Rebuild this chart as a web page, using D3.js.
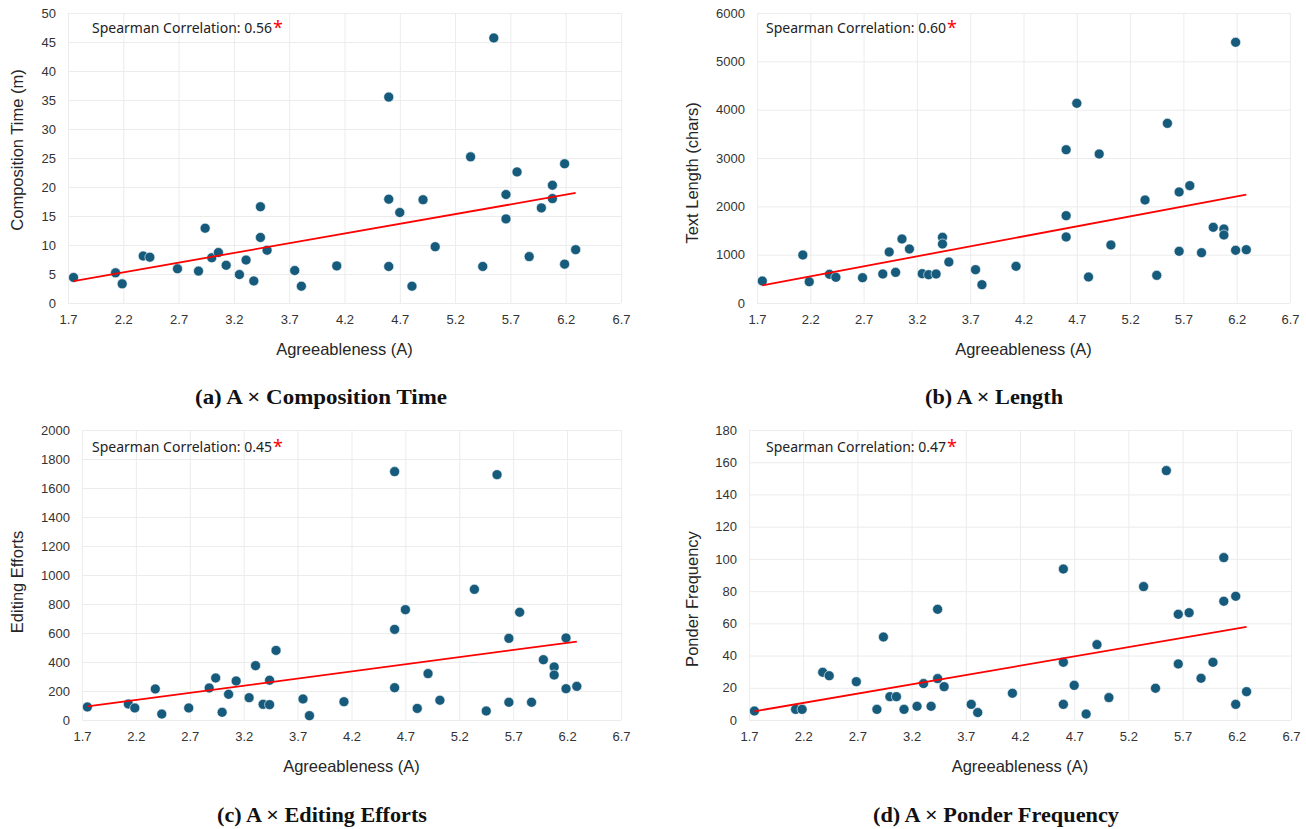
<!DOCTYPE html>
<html>
<head>
<meta charset="utf-8">
<script src="https://cdn.jsdelivr.net/npm/d3@7"></script>
<style>
  body { margin: 0; background: #fff; }
  svg { display: block; }
  .tick text { font-family: "Liberation Sans", Arial, sans-serif; font-size: 13px; fill: #333; }
  .grid line { stroke: #ececec; stroke-width: 1; }
  .axis-title { font-family: "Liberation Sans", Arial, sans-serif; font-size: 16.5px; fill: #262626; }
  .corr { font-family: "Noto Sans", sans-serif; font-size: 14px; fill: #222; }
  .caption { font-family: "Liberation Serif", "DejaVu Serif", serif; font-size: 21px; font-weight: bold; fill: #111; }
</style>
</head>
<body>
<div id="chart"></div>
<script>
var svgWidth = 1306;
var svgHeight = 829;

// Agreeableness score of each participant (shared x for all four plots)
var agreeableness = [1.75, 2.13, 2.19, 2.38, 2.44, 2.69, 2.88, 2.94, 3.0, 3.06,
  3.13, 3.25, 3.31, 3.38, 3.44, 3.44, 3.5, 3.75, 3.81, 4.13,
  4.6, 4.6, 4.6, 4.7, 4.81, 4.91, 5.02, 5.34, 5.45, 5.55,
  5.66, 5.66, 5.76, 5.87, 5.98, 6.08, 6.08, 6.19, 6.19, 6.29];

// y values, same order as agreeableness
var compositionTime = [4.4, 5.2, 3.3, 8.1, 7.9, 5.9, 5.5, 12.9, 7.8, 8.7,
  6.5, 4.9, 7.4, 3.8, 16.6, 11.3, 9.1, 5.6, 2.9, 6.4,
  35.5, 17.9, 6.3, 15.6, 2.9, 17.8, 9.7, 25.2, 6.3, 45.7,
  18.7, 14.5, 22.6, 8.0, 16.4, 20.3, 18.0, 24.0, 6.7, 9.2];

var textLength = [455, 993, 441, 593, 531, 524, 600, 1055, 634, 1324,
  1117, 607, 586, 600, 1359, 1221, 848, 690, 379, 759,
  3172, 1807, 1366, 4131, 538, 3083, 1200, 2131, 572, 3717,
  2297, 1069, 2428, 1041, 1566, 1531, 1407, 5393, 1090, 1103];

var editingEfforts = [90, 110, 83, 214, 41, 83, 221, 290, 53, 177,
  269, 154, 375, 108, 274, 106, 480, 145, 30, 126,
  1713, 625, 223, 761, 80, 320, 136, 901, 62, 1692,
  563, 122, 743, 122, 416, 366, 310, 566, 216, 232];

var ponderFrequency = [5.6, 6.6, 6.6, 29.6, 27.5, 23.8, 6.6, 51.5, 14.5, 14.5,
  6.6, 8.5, 22.6, 8.5, 68.7, 25.7, 20.7, 9.7, 4.6, 16.6,
  93.7, 35.8, 9.7, 21.5, 3.7, 46.8, 13.9, 82.8, 19.7, 154.8,
  65.6, 34.8, 66.6, 25.9, 35.8, 100.8, 73.7, 76.8, 9.7, 17.6];

var xTicks = [1.7, 2.2, 2.7, 3.2, 3.7, 4.2, 4.7, 5.2, 5.7, 6.2, 6.7];
var timeTicks = [0, 5, 10, 15, 20, 25, 30, 35, 40, 45, 50];
var lengthTicks = [0, 1000, 2000, 3000, 4000, 5000, 6000];
var effortTicks = [0, 200, 400, 600, 800, 1000, 1200, 1400, 1600, 1800, 2000];
var ponderTicks = [0, 20, 40, 60, 80, 100, 120, 140, 160, 180];

var yTitles = ["Composition Time (m)", "Text Length (chars)", "Editing Efforts", "Ponder Frequency"];
var correlations = ["0.56", "0.60", "0.45", "0.47"];
var captions = ["(a) A \u00d7 Composition Time", "(b) A \u00d7 Length",
  "(c) A \u00d7 Editing Efforts", "(d) A \u00d7 Ponder Frequency"];

// panel layout (pixel boxes of each plot area)
var panels = [
  { values: compositionTime, ticks: timeTicks, left: 68, right: 621, top: 13, bottom: 303,
    yTitleX: 17, yTitleY: 150, capX: 321, capY: 404, capW: 252, corrX: 92, corrY: 33 },
  { values: textLength, ticks: lengthTicks, left: 757, right: 1290, top: 13, bottom: 303,
    yTitleX: 692, yTitleY: 173, capX: 994, capY: 404, capW: 138, corrX: 766, corrY: 33 },
  { values: editingEfforts, ticks: effortTicks, left: 82, right: 621, top: 430, bottom: 720,
    yTitleX: 17, yTitleY: 582, capX: 322, capY: 822, capW: 210, corrX: 92, corrY: 452 },
  { values: ponderFrequency, ticks: ponderTicks, left: 749, right: 1291, top: 430, bottom: 720,
    yTitleX: 692, yTitleY: 599, capX: 996, capY: 822, capW: 246, corrX: 766, corrY: 452 }
];

var svg = d3.select("#chart")
  .append("svg")
  .attr("width", svgWidth)
  .attr("height", svgHeight);

// least squares fit for the trend line
function linearFit(xs, ys) {
  var mx = d3.mean(xs), my = d3.mean(ys);
  var num = 0, den = 0;
  xs.forEach(function(x, i) {
    num += (x - mx) * (ys[i] - my);
    den += (x - mx) * (x - mx);
  });
  var slope = num / den;
  return { slope: slope, intercept: my - slope * mx };
}

panels.forEach(function(p, i) {
  var g = svg.append("g");

  var xScale = d3.scaleLinear()
    .domain([xTicks[0], xTicks[xTicks.length - 1]])
    .range([p.left, p.right]);

  var yScale = d3.scaleLinear()
    .domain([0, p.ticks[p.ticks.length - 1]])
    .range([p.bottom, p.top]);

  // vertical grid
  g.append("g")
    .attr("class", "grid")
    .attr("transform", `translate(0, ${p.top})`)
    .call(d3.axisBottom(xScale).tickValues(xTicks).tickSize(p.bottom - p.top).tickFormat(""))
    .call(function(a) { a.select(".domain").remove(); });

  // horizontal grid
  g.append("g")
    .attr("class", "grid")
    .attr("transform", `translate(${p.left}, 0)`)
    .call(d3.axisRight(yScale).tickValues(p.ticks).tickSize(p.right - p.left).tickFormat(""))
    .call(function(a) { a.select(".domain").remove(); });

  // x axis labels
  g.append("g")
    .attr("transform", `translate(0, ${p.bottom})`)
    .call(d3.axisBottom(xScale).tickValues(xTicks).tickSize(0).tickPadding(12).tickFormat(d3.format(".1f")))
    .call(function(a) { a.select(".domain").remove(); });

  // y axis labels
  g.append("g")
    .attr("transform", `translate(${p.left}, 0)`)
    .call(d3.axisLeft(yScale).tickValues(p.ticks).tickSize(0).tickPadding(12).tickFormat(d3.format("d")))
    .call(function(a) { a.select(".domain").remove(); });

  // points
  g.selectAll("circle")
    .data(agreeableness)
    .enter()
    .append("circle")
    .attr("cx", d => xScale(d))
    .attr("cy", (d, j) => yScale(p.values[j]))
    .attr("r", 5)
    .attr("fill", "#175b7c")
    .attr("stroke", "#fff")
    .attr("stroke-width", 0.6);

  // linear trend line
  var fit = linearFit(agreeableness, p.values);
  var x0 = d3.min(agreeableness), x1 = d3.max(agreeableness);
  g.append("line")
    .attr("x1", xScale(x0))
    .attr("y1", yScale(fit.intercept + fit.slope * x0))
    .attr("x2", xScale(x1))
    .attr("y2", yScale(fit.intercept + fit.slope * x1))
    .attr("stroke", "#ff0000")
    .attr("stroke-width", 1.8);

  // correlation note
  var note = g.append("text")
    .attr("class", "corr")
    .attr("x", p.corrX)
    .attr("y", p.corrY);
  note.append("tspan").text("Spearman Correlation: " + correlations[i]);
  note.append("tspan")
    .attr("fill", "#ff0000")
    .attr("font-size", "18px")
    .attr("dx", 1)
    .attr("dy", 1)
    .text("*");

  // axis titles
  g.append("text")
    .attr("class", "axis-title")
    .attr("x", (p.left + p.right) / 2)
    .attr("y", p.bottom + 52)
    .attr("text-anchor", "middle")
    .text("Agreeableness (A)");

  g.append("text")
    .attr("class", "axis-title")
    .attr("transform", `translate(${p.yTitleX}, ${p.yTitleY}) rotate(-90)`)
    .attr("text-anchor", "middle")
    .attr("dy", "0.35em")
    .text(yTitles[i]);

  // caption
  g.append("text")
    .attr("class", "caption")
    .attr("x", p.capX)
    .attr("y", p.capY)
    .attr("text-anchor", "middle")
    .attr("textLength", p.capW)
    .attr("lengthAdjust", "spacingAndGlyphs")
    .text(captions[i]);
});
</script>
</body>
</html>
